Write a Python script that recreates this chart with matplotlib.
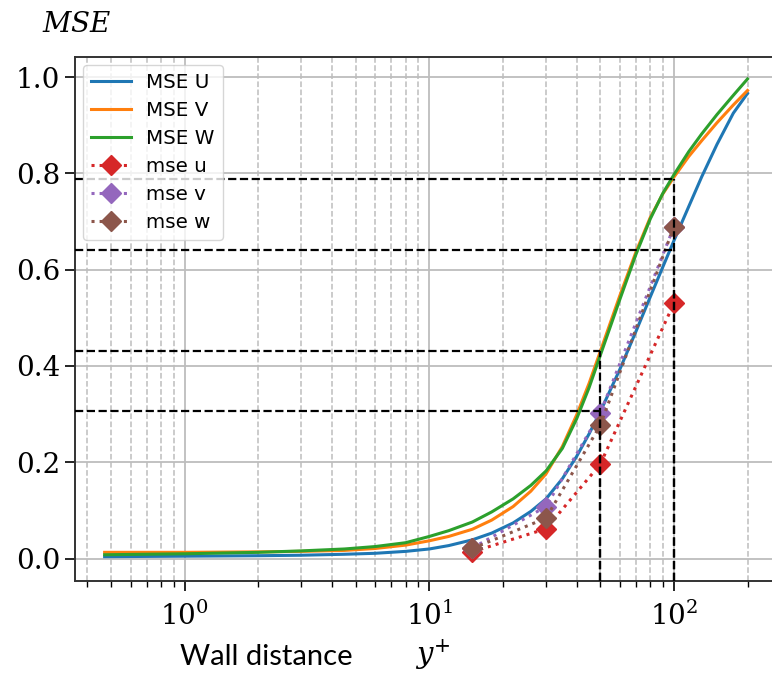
import matplotlib
matplotlib.use("Agg")
import matplotlib.pyplot as plt
from matplotlib.ticker import LogLocator, NullFormatter

# Wall distance samples for the continuous MSE curves
yplus = [0.47, 1, 2, 3, 4.5, 6, 8, 10, 12, 15, 18, 22, 26, 30, 35, 40, 45, 50,
         60, 70, 80, 90, 100, 115, 130, 150, 175, 200]
mse_U = [0.004, 0.005, 0.006, 0.007, 0.009, 0.011, 0.015, 0.020, 0.027, 0.039,
         0.053, 0.074, 0.098, 0.124, 0.166, 0.212, 0.259, 0.305, 0.392, 0.472,
         0.543, 0.605, 0.660, 0.731, 0.793, 0.860, 0.925, 0.966]
mse_V = [0.013, 0.013, 0.014, 0.015, 0.017, 0.021, 0.028, 0.037, 0.046, 0.061,
         0.080, 0.108, 0.140, 0.176, 0.233, 0.298, 0.364, 0.430, 0.545, 0.637,
         0.708, 0.757, 0.792, 0.835, 0.868, 0.905, 0.942, 0.972]
mse_W = [0.008, 0.010, 0.013, 0.016, 0.020, 0.025, 0.033, 0.046, 0.058, 0.076,
         0.097, 0.124, 0.152, 0.182, 0.229, 0.290, 0.355, 0.422, 0.537, 0.632,
         0.705, 0.758, 0.797, 0.845, 0.882, 0.922, 0.962, 0.996]

# Discrete evaluation points
yplus_pts = [15, 30, 50, 100]
mse_u_pts = [0.014, 0.062, 0.196, 0.530]
mse_v_pts = [0.022, 0.108, 0.302, 0.689]
mse_w_pts = [0.021, 0.084, 0.277, 0.689]

# Reference read-off lines
ref_x = [50, 50, 100, 100]
ref_y = [0.431, 0.307, 0.788, 0.641]

xlim = (0.3556, 271.6)
ylim = (-0.0459, 1.0416)

plt.rcParams["mathtext.fontset"] = "dejavuserif"

fig = plt.figure(figsize=(7.72, 6.78), dpi=100)
ax = fig.add_axes([75 / 772, (678 - 580.7) / 678, (780 - 75) / 772, (580.7 - 57) / 678])

ax.plot(yplus, mse_U, color="C0", lw=2.2, label="MSE U")
ax.plot(yplus, mse_V, color="C1", lw=2.2, label="MSE V")
ax.plot(yplus, mse_W, color="C2", lw=2.2, label="MSE W")
ax.plot(yplus_pts, mse_u_pts, ":", color="C3", lw=2.2, marker="D", ms=10.5, label="mse u")
ax.plot(yplus_pts, mse_v_pts, ":", color="C4", lw=2.2, marker="D", ms=10.5, label="mse v")
ax.plot(yplus_pts, mse_w_pts, ":", color="C5", lw=2.2, marker="D", ms=10.5, label="mse w")

for xr, yr in zip(ref_x, ref_y):
    ax.plot([xlim[0], xr], [yr, yr], "k--", lw=1.6, zorder=4)
    ax.plot([xr, xr], [ylim[0], yr], "k--", lw=1.6, zorder=4)

ax.set_xscale("log")
ax.set_xlim(*xlim)
ax.set_ylim(*ylim)
ax.set_yticks([0.0, 0.2, 0.4, 0.6, 0.8, 1.0])
ax.set_yticklabels(["0.0", "0.2", "0.4", "0.6", "0.8", "1.0"])
ax.xaxis.set_minor_locator(LogLocator(base=10, subs=range(2, 10), numticks=20))
ax.xaxis.set_minor_formatter(NullFormatter())

ax.grid(True, which="major", color="#bdbdbd", lw=1.3)
ax.grid(True, which="minor", axis="x", color="#bdbdbd", lw=1.1, ls="--")
ax.set_axisbelow(True)

ax.tick_params(axis="both", which="major", length=7, width=1.2, labelsize=20)
ax.tick_params(axis="x", which="minor", length=4, width=1.0)
ax.tick_params(axis="x", which="major", pad=8)
for lab in ax.get_yticklabels() + ax.get_xticklabels():
    lab.set_fontfamily("DejaVu Serif")

for s in ax.spines.values():
    s.set_linewidth(1.4)
    s.set_color("#333333")

leg = ax.legend(loc="upper left", fontsize=14.3, handlelength=2.0,
                borderaxespad=0.4, labelspacing=0.45)

fig.text(42 / 772, 1 - 24 / 678, r"$MSE$", fontsize=20, va="center", ha="left")
fig.text(180 / 772, 1 - 657 / 678, "Wall distance", fontsize=21, family="Lato",
         va="center", ha="left")
fig.text(415 / 772, 1 - 655 / 678, r"$y^{+}$", fontsize=21, va="center", ha="left")

fig.savefig("out.png", dpi=100)
